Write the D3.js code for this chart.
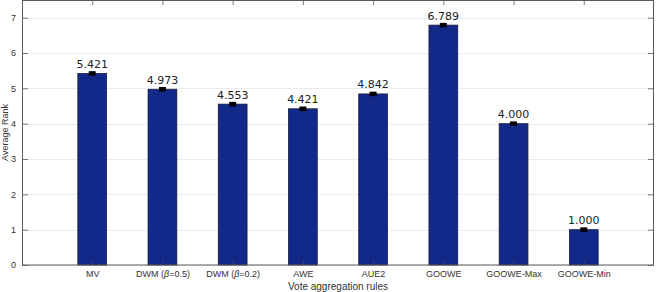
<!DOCTYPE html>
<html>
<head>
<meta charset="utf-8">
<script src="https://cdn.jsdelivr.net/npm/d3@7"></script>
<style>
  body { margin: 0; background: #fff; }
  #chart { width: 656px; height: 292px; }
</style>
</head>
<body>
<div id="chart"></div>
<script>
const categories = ["MV", "DWM (β=0.5)", "DWM (β=0.2)", "AWE", "AUE2", "GOOWE", "GOOWE-Max", "GOOWE-Min"];
const avgRank = [5.421, 4.973, 4.553, 4.421, 4.842, 6.789, 4.000, 1.000];
const errors = [0.05, 0.05, 0.05, 0.05, 0.05, 0.05, 0.05, 0.05];
const yTicks = [0, 1, 2, 3, 4, 5, 6, 7];

function renderChart(container) {
  const margin = {top: 0, right: 2, bottom: 27, left: 22};
  const width = 656 - margin.left - margin.right;
  const height = 292 - margin.top - margin.bottom;

  const svg = d3.select(container)
    .append("svg")
    .attr("width", 656)
    .attr("height", 292)
    .append("g")
    .attr("transform", `translate(${margin.left},${margin.top})`);

  // matlab style: categories sit at 1..n on a 0..n+1 axis
  const x = d3.scaleLinear()
    .domain([0, categories.length + 1])
    .range([0, width]);

  const y = d3.scaleLinear()
    .domain([0, 7.5])
    .range([height, 0]);

  const barW = x(0.41) - x(0);

  // grid
  svg.append("g")
    .selectAll("line")
    .data(yTicks)
    .enter()
    .append("line")
    .attr("x1", 0)
    .attr("x2", width)
    .attr("y1", d => Math.round(y(d)) + 0.5)
    .attr("y2", d => Math.round(y(d)) + 0.5)
    .attr("stroke", "#ebebeb")
    .attr("stroke-width", 1);

  // bars
  svg.selectAll(".bar")
    .data(avgRank)
    .enter()
    .append("rect")
    .attr("class", "bar")
    .attr("x", (d, i) => x(i + 1) - barW / 2)
    .attr("y", d => y(d))
    .attr("width", barW)
    .attr("height", d => y(0) - y(d))
    .attr("fill", "#13298a")
    .attr("stroke", "#1b1f3c")
    .attr("stroke-width", 0.8);

  // error markers
  svg.selectAll(".err")
    .data(avgRank)
    .enter()
    .append("rect")
    .attr("class", "err")
    .attr("x", (d, i) => x(i + 1) - 3.5)
    .attr("y", (d, i) => y(d + errors[i]) - 0.5)
    .attr("width", 7)
    .attr("height", (d, i) => y(d - errors[i]) - y(d + errors[i]) + 1)
    .attr("fill", "#000");

  // value labels
  svg.selectAll(".val")
    .data(avgRank)
    .enter()
    .append("text")
    .attr("class", "val")
    .attr("x", (d, i) => x(i + 1))
    .attr("y", d => y(d) - 5.5)
    .attr("text-anchor", "middle")
    .attr("font-family", "DejaVu Sans")
    .attr("font-size", "11px")
    .attr("fill", "#222")
    .text(d => d.toFixed(3));

  const axisColor = "#5a5a5a";

  // left axis, ticks inside
  const left = svg.append("g")
    .call(d3.axisLeft(y).tickValues(yTicks).tickSize(-6).tickPadding(6).tickFormat(d3.format("d")));
  // right axis, ticks inside
  const right = svg.append("g")
    .attr("transform", `translate(${width},0)`)
    .call(d3.axisRight(y).tickValues(yTicks).tickSize(-6).tickFormat(""));
  // bottom axis, ticks inside
  const bottom = svg.append("g")
    .attr("transform", `translate(0,${height})`)
    .call(d3.axisBottom(x).tickValues(d3.range(1, categories.length + 1)).tickSize(-5).tickPadding(6)
      .tickFormat(d => categories[d - 1]));
  // top axis, ticks inside
  const top = svg.append("g")
    .call(d3.axisTop(x).tickValues(d3.range(1, categories.length + 1)).tickSize(-5).tickFormat(""));

  [left, right, bottom, top].forEach(g => {
    g.select(".domain").attr("stroke", axisColor).attr("d", null);
    g.selectAll(".tick line").attr("stroke", axisColor).attr("stroke-width", 0.8);
    g.selectAll("text")
      .attr("font-family", "Liberation Sans, Arial, sans-serif")
      .attr("font-size", "9px")
      .attr("fill", "#333");
  });
  bottom.selectAll(".tick line").attr("stroke", "#3a4470");

  // beta in italics
  bottom.selectAll(".tick text").each(function(d) {
    const label = categories[d - 1];
    if (label.indexOf("β") < 0) return;
    const parts = label.split("β");
    const t = d3.select(this).text(null);
    t.append("tspan").text(parts[0]);
    t.append("tspan").attr("font-style", "italic").text("β");
    t.append("tspan").text(parts[1]);
  });

  // box
  svg.append("rect")
    .attr("x", 0.5)
    .attr("y", 0.5)
    .attr("width", width - 1)
    .attr("height", height - 0.5)
    .attr("fill", "none")
    .attr("stroke", axisColor)
    .attr("stroke-width", 1);

  // axis titles
  svg.append("text")
    .attr("x", width / 2)
    .attr("y", height + 25)
    .attr("text-anchor", "middle")
    .attr("font-family", "Liberation Sans, Arial, sans-serif")
    .attr("font-size", "10px")
    .attr("fill", "#333")
    .text("Vote aggregation rules");

  svg.append("text")
    .attr("transform", `translate(${-14},${height / 2}) rotate(-90)`)
    .attr("text-anchor", "middle")
    .attr("font-family", "Liberation Sans, Arial, sans-serif")
    .attr("font-size", "9px")
    .attr("fill", "#333")
    .text("Average Rank");
}

renderChart(document.getElementById("chart"));
</script>
</body>
</html>
